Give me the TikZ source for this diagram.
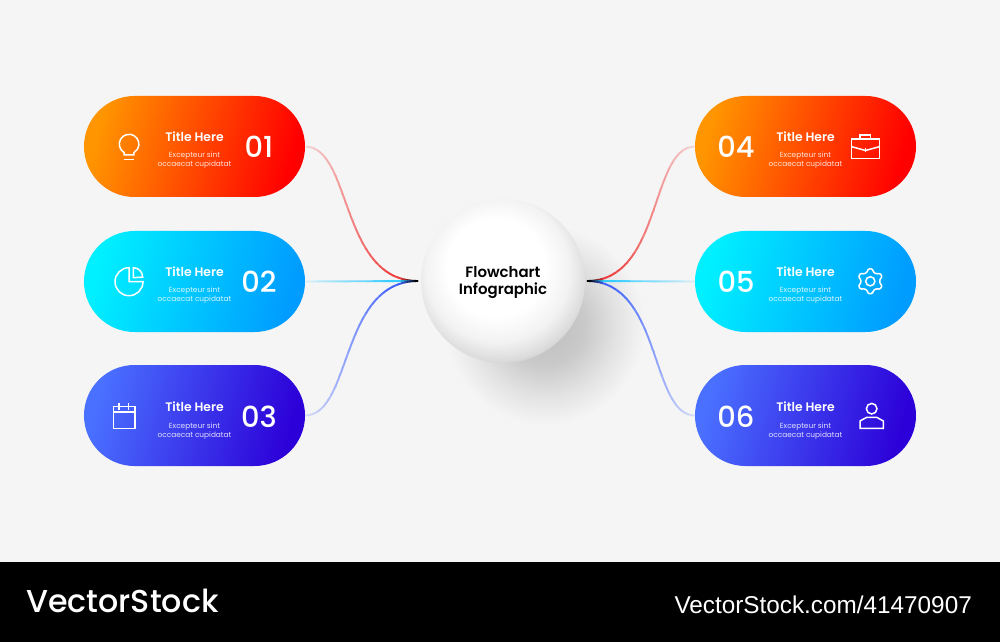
\documentclass[tikz,border=0pt]{standalone}
\usepackage{xcolor}
\usepackage{fontspec}
\setmainfont{Poppins}
\newfontfamily\heavyfont{Poppins SemiBold}
\newfontfamily\midfont{Poppins Medium}
\newfontfamily\markfont{Liberation Sans}
\usetikzlibrary{shapes.misc,calc}
\definecolor{bgpage}{HTML}{F5F5F5}
\definecolor{redlo}{HTML}{FF9500}
\definecolor{redhi}{HTML}{FF0000}
\definecolor{cyanlo}{HTML}{00F0FF}
\definecolor{cyanhi}{HTML}{009CFF}
\definecolor{bluelo}{HTML}{4A70FF}
\definecolor{bluehi}{HTML}{2C00D8}
\definecolor{linkred}{HTML}{F03C3C}
\definecolor{linkcyan}{HTML}{35CCFF}
\definecolor{linkblue}{HTML}{3F62FF}
\pgfdeclareradialshading{hubball}{\pgfpoint{-3bp}{6bp}}{color(0bp)=(white);color(15bp)=(white);color(22bp)=(white!95!black);color(27bp)=(white!86!black);color(30bp)=(white!76!black);color(33bp)=(white!64!black);color(50bp)=(white!64!black)}
\pgfdeclareradialshading{hubshadow}{\pgfpoint{0bp}{0bp}}{color(0bp)=(white!74!black);color(10bp)=(white!79!black);color(18bp)=(white!89!black);color(25bp)=(bgpage);color(50bp)=(bgpage)}
\newcommand{\linkpath}[4]{
	\foreach \i in {0,...,39}{
		\pgfmathsetmacro\xa{#1+(#2-#1)*\i/40}
		\pgfmathsetmacro\xb{#1+(#2-#1)*(\i+1.1)/40}
		\pgfmathsetmacro\mixa{min(100,16+84*\i/30)}
		\pgfmathsetmacro\mixb{max(0,(\i-33)/6*100)}
		\colorlet{linka}{#3!\mixa!bgpage}
		\colorlet{linkb}{black!\mixb!linka}
		\begin{scope}
			\clip (\xa,0) rectangle (\xb,562);
			\draw[link] #4;
		\end{scope}
	}
}
\tikzset{
	pill/.style={rounded rectangle, minimum width=221bp, minimum height=101bp, inner sep=0pt},
	pillred/.style={pill, left color=redlo, right color=redhi, shading angle=75},
	pillcyan/.style={pill, left color=cyanlo, right color=cyanhi, shading angle=75},
	pillblue/.style={pill, left color=bluelo, right color=bluehi, shading angle=75},
	hub/.style={circle, minimum size=164bp, inner sep=0pt, shading=hubball},
	hubtext/.style={inner sep=0pt, font=\heavyfont\fontsize{15}{18}\selectfont, align=center, text=black},
	titlenode/.style={white, inner sep=0pt, font=\heavyfont\fontsize{12.4}{14}\selectfont},
	bodynode/.style={white, text opacity=.85, inner sep=0pt, align=center, font=\fontsize{7.4}{9}\selectfont},
	numnode/.style={white, inner sep=0pt, font=\midfont\fontsize{29}{32}\selectfont},
	icon/.style={draw=white, line width=1.5bp, line join=miter},
	link/.style={line width=1.9bp, draw=linkb}
}
\begin{document}
\begin{tikzpicture}[x=1bp,y=-1bp]
	\useasboundingbox (0,0) rectangle (1000,642);
	\fill[bgpage] (0,0) rectangle (1000,562);
	\fill[black] (0,562) rectangle (1000,642);
	\node[white, anchor=west, inner sep=0pt, font=\midfont\fontsize{31.8}{34}\selectfont] (brand) at (26,601) {VectorStock};
	\node[white, anchor=east, inner sep=0pt, font=\markfont\fontsize{24.4}{27}\selectfont] (mark) at (972,605) {VectorStock.com/41470907};

	\shade[shading=hubshadow] (545,325) circle (100);

	\node[pillred] (pillA) at (194.5,146.5) {};
	\node[pillcyan] (pillB) at (194.5,281.5) {};
	\node[pillblue] (pillC) at (194.5,415.5) {};
	\node[pillred] (pillD) at (805.5,146.5) {};
	\node[pillcyan] (pillE) at (805.5,281.5) {};
	\node[pillblue] (pillF) at (805.5,415.5) {};

	\coordinate (hubL) at (418,281);
	\coordinate (hubR) at (587,281);
	\linkpath{305}{418}{linkred}{(pillA.east) .. controls (352,147) and (340,281) .. (hubL)}
	\linkpath{305}{418}{linkcyan}{(pillB.east) -- (hubL)}
	\linkpath{305}{418}{linkblue}{(pillC.east) .. controls (352,415) and (340,281) .. (hubL)}
	\linkpath{695}{587}{linkred}{(pillD.west) .. controls (650,147) and (662,281) .. (hubR)}
	\linkpath{695}{587}{linkcyan}{(pillE.west) -- (hubR)}
	\linkpath{695}{587}{linkblue}{(pillF.west) .. controls (650,415) and (662,281) .. (hubR)}

	\node[hub] (ball) at (503,281) {};
	\node[hubtext] (balltext) at ([yshift=-1.5bp]ball.center) {Flowchart\\Infographic};

	\foreach \pname/\nx/\dy/\num in {pillA/64.5/0/01,pillB/64.5/0/02,pillC/64.5/-1.5/03,pillD/-69.5/0/04,pillE/-69.5/0/05,pillF/-69.5/-1.5/06}{
		\node[titlenode] (\pname title) at ([yshift=10bp+\dy bp]\pname.center) {Title Here};
		\node[bodynode] (\pname body) at ([yshift=-14bp+\dy bp]\pname.center) {Excepteur sint\\occaecat cupidatat};
		\node[numnode] (\pname num) at ([xshift=\nx bp,yshift=\dy bp]\pname.center) {\num};
	}

	\draw[icon] (124.2,152.6) arc[start angle=120, end angle=420, radius=9.8] -- (133.8,155) -- (124.2,155) -- cycle;
	\draw[icon] (124,159.5) -- (134,159.5);

	\draw[icon] (129,267.7) arc[start angle=270, end angle=0, radius=14] -- (129,281.7) -- cycle;
	\draw[icon] (133.3,267.7) arc[start angle=270, end angle=360, radius=9.4] -- (133.3,277.7) -- cycle;

	\draw[icon] (113.5,406.7) rectangle (135,428.3);
	\draw[icon] (113.5,412) -- (135,412);
	\draw[icon] (119,403.3) -- (119,410) (128.5,403.3) -- (128.5,410);

	\draw[icon] (851.7,139) rectangle (879.3,158.3);
	\draw[icon] (860,139) -- (860,135) -- (870.7,135) -- (870.7,139);
	\draw[icon] (851.7,146.7) -- (865.5,150.5) -- (879.3,146.7);
	\draw[icon] (865.5,148.3) -- (865.5,152);

	\coordinate (gear) at (870.3,281.3);
	\draw[icon] (gear) circle (4.6);
	\draw[icon, rounded corners=1bp] ($(gear)+(81:12.6)$) \foreach \a in {90,150,210,270,330,30}{
		-- ($(gear)+(\a-9:12.6)$) -- ($(gear)+(\a+9:12.6)$) -- ($(gear)+(\a+20:9.6)$) -- ($(gear)+(\a+40:9.6)$)
	} -- cycle;

	\draw[icon] (871.7,408.7) circle (5.3);
	\draw[icon] (866.7,417.3) -- (876.7,417.3) -- (883.3,421) -- (883.3,428.3) -- (860,428.3) -- (860,421) -- cycle;
\end{tikzpicture}
\end{document}
